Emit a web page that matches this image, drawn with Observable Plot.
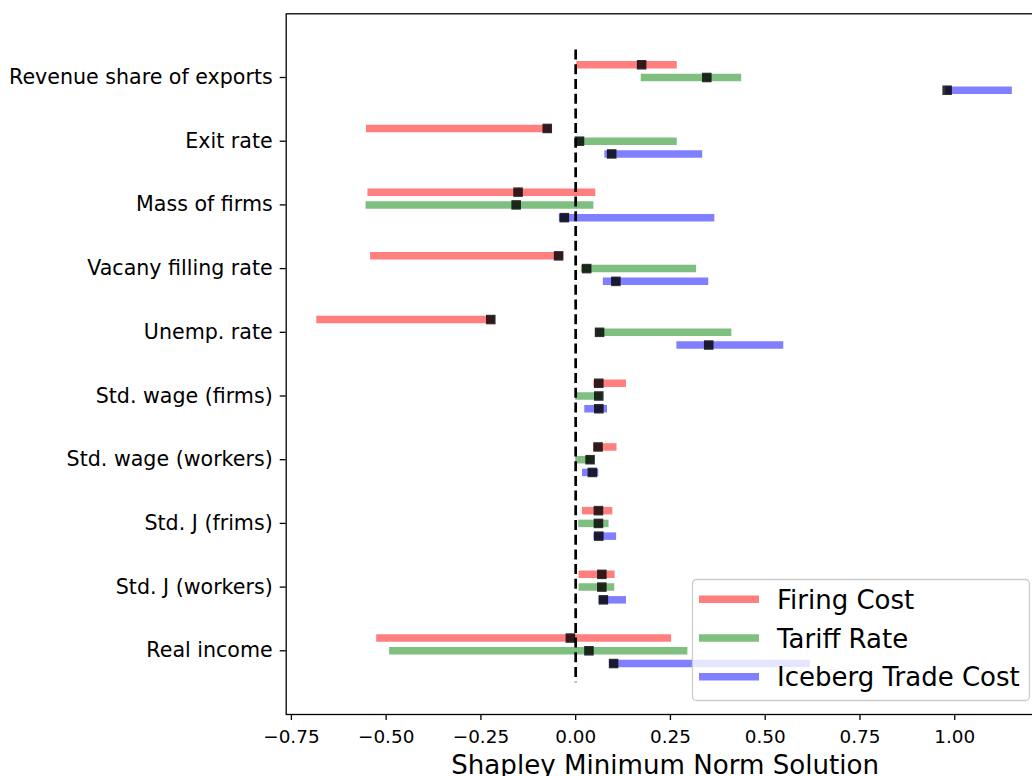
<!DOCTYPE html>
<html><head><meta charset="utf-8">
<script src="https://cdn.jsdelivr.net/npm/d3@7"></script>
<script src="https://cdn.jsdelivr.net/npm/@observablehq/plot@0.6"></script>
<style>
html,body{margin:0;padding:0;background:#fff;overflow:hidden;}
#wrap{position:relative;width:1044px;height:776px;overflow:hidden;}
#wrap svg{display:block;}
#legend{position:absolute;left:0;top:0;pointer-events:none;}
</style></head><body><div id="wrap"></div>
<script>
const categories = ["Revenue share of exports","Exit rate","Mass of firms","Vacany filling rate","Unemp. rate",
  "Std. wage (firms)","Std. wage (workers)","Std. J (frims)","Std. J (workers)","Real income"];
const seriesNames = ["Firing Cost","Tariff Rate","Iceberg Trade Cost"];
const seriesColors = ["#ff0000","#008000","#0000ff"];

const firingLow  = [0.003,-0.552,-0.548,-0.541,-0.683,0.048,0.048,0.018,0.009,-0.525];
const firingMid  = [0.174,-0.075,-0.152,-0.045,-0.224,0.061,0.059,0.060,0.069,-0.014];
const firingHigh = [0.268,-0.063,0.053,-0.032,-0.212,0.134,0.109,0.098,0.104,0.253];

const tariffLow  = [0.173,0.002,-0.553,0.015,0.053,0.000,0.000,0.008,0.009,-0.491];
const tariffMid  = [0.346,0.010,-0.157,0.029,0.063,0.061,0.038,0.060,0.069,0.035];
const tariffHigh = [0.438,0.268,0.048,0.319,0.412,0.071,0.050,0.088,0.103,0.296];

const icebergLow  = [0.976,0.077,-0.043,0.073,0.267,0.024,0.018,0.048,0.062,0.090];
const icebergMid  = [0.980,0.095,-0.030,0.106,0.351,0.061,0.044,0.061,0.073,0.100];
const icebergHigh = [1.152,0.335,0.367,0.351,0.549,0.084,0.061,0.108,0.134,0.619];

const xTicks = [-0.75,-0.5,-0.25,0,0.25,0.5,0.75,1.0];
const xLabel = "Shapley Minimum Norm Solution";

const lows = [firingLow, tariffLow, icebergLow];
const mids = [firingMid, tariffMid, icebergMid];
const highs = [firingHigh, tariffHigh, icebergHigh];
const offsets = [-0.2, 0, 0.2];

const seriesRows = seriesNames.map((name, k) => categories.map((c, i) => ({
  series: name, pos: i + offsets[k], low: lows[k][i], mid: mids[k][i], high: highs[k][i]
})));

const barMarks = seriesRows.map((rows, k) =>
  Plot.ruleY(rows, {y: "pos", x1: "low", x2: "high", stroke: seriesColors[k], strokeOpacity: 0.5, strokeWidth: 7.5}));
const dotMarks = seriesRows.map(rows =>
  Plot.dot(rows, {x: "mid", y: "pos", symbol: "square", r: 5.4, fill: "black", fillOpacity: 0.8, stroke: "none"}));

const chart = Plot.plot({
  width: 1044, height: 776,
  marginTop: 13.3, marginBottom: 62, marginLeft: 285.7, marginRight: 0.5,
  style: {fontFamily: "DejaVu Sans", color: "black", background: "white"},
  x: {domain: [-0.7637, 1.2355]},
  y: {domain: [-1, 10], reverse: true},
  marks: [
    ...barMarks,
    Plot.ruleX([0], {y1: -0.43, y2: 9.5, stroke: "black", strokeWidth: 2.7, strokeDasharray: "10,4.7"}),
    ...dotMarks,
    Plot.frame({stroke: "black", strokeWidth: 1.3}),
    Plot.axisY(d3.range(categories.length), {tickFormat: i => categories[i], fontSize: 20.6, tickSize: 6, tickPadding: 7.5, strokeWidth: 1.3, label: null}),
    Plot.axisX(xTicks, {tickFormat: d3.format(".2f"), fontSize: 18.4, tickSize: 6, tickPadding: 9.3, strokeWidth: 1.3, label: null}),
    Plot.text([xLabel], {frameAnchor: "bottom", lineAnchor: "top", dy: 40.5, fontSize: 26.1, fill: "black"})
  ]
});
const wrap = document.getElementById("wrap");
wrap.appendChild(chart);

// Legend overlay (matplotlib-style, lower right inside axes)
const lg = d3.select(wrap).append("svg").attr("id","legend")
  .attr("width",1044).attr("height",776)
  .style("font-family","DejaVu Sans");
lg.append("rect").attr("x",692.5).attr("y",579.5).attr("width",337).attr("height",121)
  .attr("rx",4).attr("fill","white").attr("fill-opacity",0.8)
  .attr("stroke","#cccccc").attr("stroke-width",1.3);
const rowY = [599.3, 638, 676.7];
seriesNames.forEach((name, k) => {
  lg.append("line").attr("x1",699).attr("x2",759).attr("y1",rowY[k]).attr("y2",rowY[k])
    .attr("stroke",seriesColors[k]).attr("stroke-opacity",0.5).attr("stroke-width",7.5);
  lg.append("text").attr("x",777).attr("y",rowY[k] + 9.5).attr("font-size",26)
    .attr("fill","black").text(name);
});
</script></body></html>
